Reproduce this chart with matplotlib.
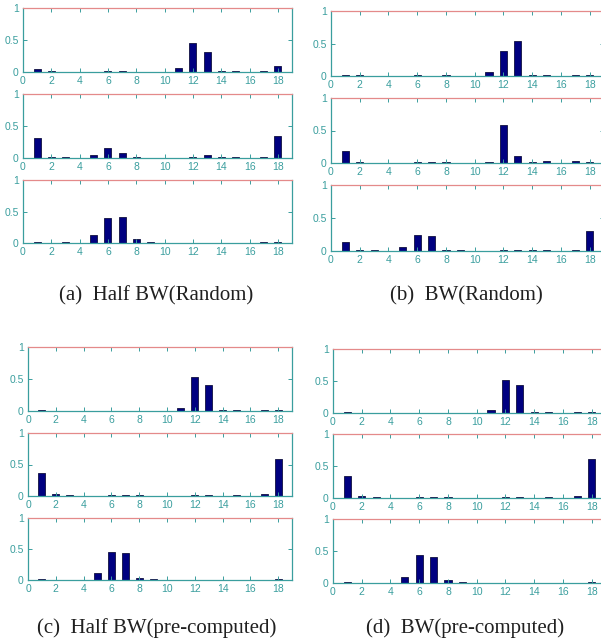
import matplotlib
matplotlib.use("Agg")
import matplotlib.pyplot as plt
import numpy as np

# bin indices (1..18) and normalised histogram values, three rows per panel
bins = list(range(1, 19))

a_top = [0.04, 0.01, 0, 0, 0, 0.01, 0.01, 0, 0, 0, 0.07, 0.45, 0.31, 0.01, 0.01, 0, 0.01, 0.10]
a_mid = [0.32, 0.02, 0.01, 0, 0.04, 0.16, 0.08, 0.01, 0, 0, 0, 0.01, 0.05, 0.01, 0.01, 0, 0.02, 0.34]
a_bot = [0.01, 0, 0.01, 0, 0.13, 0.40, 0.41, 0.07, 0.02, 0, 0, 0, 0, 0, 0, 0, 0.01, 0.02]

b_top = [0.02, 0.01, 0, 0, 0, 0.01, 0, 0.01, 0, 0, 0.06, 0.38, 0.54, 0.02, 0.01, 0, 0.01, 0.01]
b_mid = [0.19, 0.02, 0, 0, 0, 0.01, 0.01, 0.01, 0, 0, 0.01, 0.58, 0.11, 0.02, 0.03, 0, 0.03, 0.01]
b_bot = [0.13, 0.01, 0.01, 0, 0.06, 0.24, 0.22, 0.02, 0.01, 0, 0, 0.01, 0.01, 0.01, 0.01, 0, 0.01, 0.31]

c_top = [0.01, 0, 0, 0, 0, 0, 0, 0, 0, 0, 0.05, 0.53, 0.41, 0.02, 0.01, 0, 0.01, 0.01]
c_mid = [0.37, 0.03, 0.01, 0, 0, 0.01, 0.01, 0.01, 0, 0, 0, 0.01, 0.01, 0, 0.01, 0, 0.03, 0.59]
c_bot = [0.01, 0, 0, 0, 0.12, 0.45, 0.43, 0.04, 0.02, 0, 0, 0, 0, 0, 0, 0, 0, 0.01]

d_top = [0.01, 0, 0, 0, 0, 0, 0, 0, 0, 0, 0.05, 0.52, 0.44, 0.02, 0.01, 0, 0.01, 0.01]
d_mid = [0.34, 0.03, 0.01, 0, 0, 0.01, 0.01, 0.01, 0, 0, 0, 0.01, 0.01, 0, 0.01, 0, 0.03, 0.61]
d_bot = [0.01, 0, 0, 0, 0.10, 0.44, 0.40, 0.04, 0.02, 0, 0, 0, 0, 0, 0, 0, 0, 0.01]

captions = ["(a)  Half BW(Random)", "(b)  BW(Random)",
            "(c)  Half BW(pre-computed)", "(d)  BW(pre-computed)"]

W, H = 601, 640
axis_col = "#3a9e9e"
bar_col = "#000080"

# pixel boxes: left, right, and (top, bottom) for each of the three rows
panels = [
    (23, 292, [(8, 72), (94, 158), (180, 243)], [a_top, a_mid, a_bot]),
    (331, 604, [(11, 76), (98, 163), (185, 251)], [b_top, b_mid, b_bot]),
    (28, 292, [(347, 411), (433, 496), (518, 580)], [c_top, c_mid, c_bot]),
    (333, 606, [(349, 413), (434, 498), (519, 583)], [d_top, d_mid, d_bot]),
]
caption_pos = [(156, 296), (466, 296), (157, 628), (465, 628)]

fig = plt.figure(figsize=(W / 100, H / 100), dpi=100)

for left, right, rows, series in panels:
    for (top, bottom), vals in zip(rows, series):
        ax = fig.add_axes([left / W, 1 - bottom / H, (right - left) / W, (bottom - top) / H])
        ax.bar(bins, vals, width=0.5, color=bar_col, edgecolor="#101040", linewidth=0.6)
        ax.set_xlim(0, 19)
        ax.set_ylim(0, 1)
        ax.set_xticks(np.arange(0, 19, 2))
        ax.set_yticks([0, 0.5, 1])
        ax.set_yticklabels(["0", "0.5", "1"])
        ax.tick_params(direction="in", length=3, width=0.7, colors=axis_col,
                       labelsize=7.5, pad=3, top=True, right=True)
        for name, sp in ax.spines.items():
            sp.set_color(axis_col)
            sp.set_linewidth(0.9)
        ax.spines["top"].set_color("#e48a8a")
        for lab in ax.get_xticklabels() + ax.get_yticklabels():
            lab.set_fontfamily("Liberation Sans")

for (cx, cy), text in zip(caption_pos, captions):
    fig.text(cx / W, 1 - cy / H, text, ha="center", va="center",
             fontsize=15, family="Liberation Serif", color="#202020")

plt.savefig("out.png", dpi=100)
